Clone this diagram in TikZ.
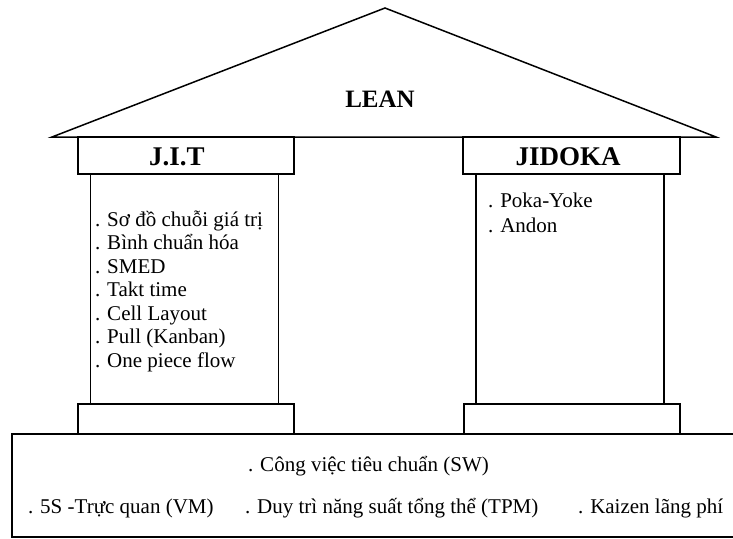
\documentclass[tikz,border=0pt]{standalone}
\usepackage{fontspec}
\setmainfont{Liberation Serif}
\usetikzlibrary{positioning}

\begin{document}
\begin{tikzpicture}[x=1pt, y=-1pt, line width=1.5pt,
    every node/.append style = {font=\fontsize{21}{24}\selectfont, inner sep=0pt, outer sep=0pt},
    headbox/.style = {draw, minimum width=216pt, minimum height=37pt},
    headtext/.style = {font=\fontsize{27}{30}\selectfont\bfseries, anchor=base},
    pillarbox/.style = {draw, minimum width=188pt, minimum height=230pt},
    plinthbox/.style = {draw, minimum width=216pt, minimum height=30pt}
  ]
  \useasboundingbox (0,0) rectangle (733,538);

  % roof
  \coordinate (roofL) at (52,137);
  \coordinate (roofR) at (716,137);
  \coordinate (roofTop) at (385,8);
  \draw (roofL) -- (roofTop) -- (roofR) -- cycle;
  \node[font=\fontsize{25}{28}\selectfont\bfseries, anchor=base] (lean) at (380,107) {LEAN};

  % J.I.T pillar
  \node[headbox] (jitHead) at (186,155.5) {};
  \node[headtext] (jitTitle) at (177,165) {J.I.T};
  \node[pillarbox] (jitPillar) at (184.5,289) {};
  \node[plinthbox] (jitPlinth) at (186,419) {};
  \foreach \entry [count=\i] in {Sơ đồ chuỗi giá trị, Bình chuẩn hóa, SMED,
      Takt time, Cell Layout, Pull (Kanban), One piece flow}
    \node[anchor=base west] (jit\i) at (95,202.5+23.5*\i) {. \entry};

  % JIDOKA pillar
  \node[headbox, minimum width=217pt] (jidHead) at (571.5,155.5) {};
  \node[headtext] (jidTitle) at (568,165) {JIDOKA};
  \node[pillarbox] (jidPillar) at (570,289) {};
  \node[plinthbox] (jidPlinth) at (572,419) {};
  \node[anchor=base west] (poka) at (488,207) {. Poka-Yoke};
  \node[anchor=base west] (andon) at (488,232) {. Andon};

  % foundation
  \draw (740,434) -| (12,537) -- (740,537);
  \node[anchor=base west] (sw) at (248,471) {. Công việc tiêu chuẩn (SW)};
  \node[anchor=base west] (vm) at (28,513) {. 5S -Trực quan (VM)};
  \node[anchor=base west] (tpm) at (245,513) {. Duy trì năng suất tổng thể (TPM)};
  \node[anchor=base west] (kaizen) at (578,513) {. Kaizen lãng phí};
\end{tikzpicture}
\end{document}
